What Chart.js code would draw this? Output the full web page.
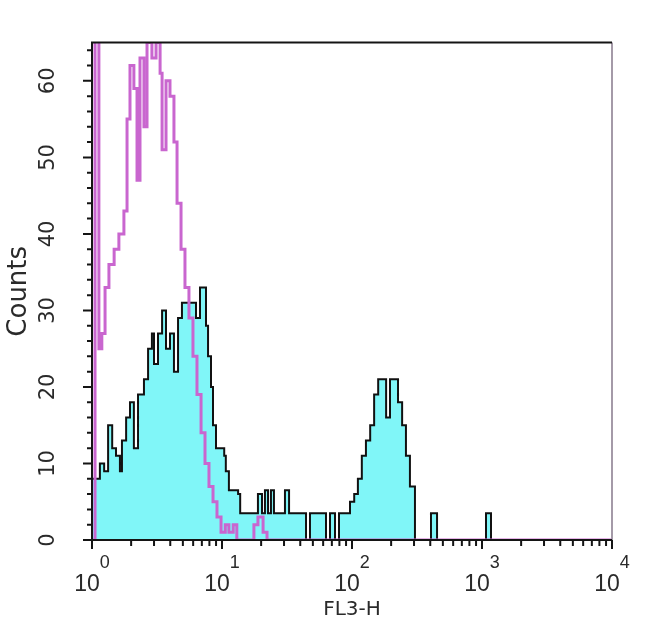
<!DOCTYPE html>
<html>
<head>
<meta charset="utf-8">
<script src="https://cdn.jsdelivr.net/npm/chart.js@4.4.1/dist/chart.umd.min.js"></script>
<style>
  html, body { margin: 0; padding: 0; background: #fff; }
  canvas { display: block; }
</style>
</head>
<body>
<canvas id="histChart" width="650" height="629"></canvas>
<script>
// Stained sample (cyan filled): FL3-H bin left edge -> counts
const stainedFL3 = [1.00, 1.15, 1.24, 1.33, 1.43, 1.53, 1.64, 1.70, 1.83, 1.96, 2.10, 2.26, 2.51, 2.70, 2.89, 3.00,
  3.22, 3.46, 3.71, 3.98, 4.27, 4.59, 4.92, 5.67, 6.31, 6.77, 7.27, 7.53, 7.81, 8.23, 8.53, 8.99, 10.4, 10.7, 11.3,
  13.3, 13.8, 18.3, 18.9, 20.3, 21.4, 22.6, 23.8, 25.1, 30.5, 32.8, 44.3, 47.5, 63.1, 67.7, 74.0, 79.4, 96.5, 104,
  111, 119, 128, 138, 148, 159, 183, 196, 226, 243, 260, 279, 305, 405, 451, 1073, 1173, 10000];
const stainedCounts = [8, 10, 9, 15, 12, 11, 9, 13, 16, 18, 12, 19, 21, 25, 27, 23,
  27, 30, 25, 27, 22, 29, 31, 31, 29, 33, 33, 28, 24, 20, 15, 12, 11, 9, 6.5,
  6, 3.5, 3.5, 6, 3.5, 6.5, 3.5, 6.5, 3.5, 6.5, 3.5, 0, 3.5, 0, 3.5, 0, 3.5, 5, 6,
  8, 11, 13, 15, 19, 21, 16, 21, 18, 15, 11, 7, 0, 3.5, 0, 3.5, 0, 0];

// Isotype control (magenta line)
const isotypeFL3 = [1.00, 1.055, 1.13, 1.19, 1.26, 1.35, 1.48, 1.61, 1.76, 1.86, 1.96, 2.10, 2.22, 2.34, 2.51, 2.65,
  2.89, 3.11, 3.34, 3.46, 3.71, 3.98, 4.27, 4.51, 4.84, 5.19, 5.57, 5.98, 6.42, 6.90, 7.40, 7.94, 8.53, 9.15, 9.83,
  10.6, 11.3, 12.2, 13.0, 17.6, 18.9, 20.7, 22.2, 10000];
const isotypeCounts = [0, 80, 25, 27, 33, 36, 38, 40, 43, 55, 62, 59, 47, 63, 54, 65,
  63, 65, 61, 51, 60, 58, 52, 44, 38, 33, 29, 24, 19, 14, 10, 7, 5, 3, 1,
  2, 1, 2, 0, 2, 3, 1, 0, 0];

const xTickValues = [1, 10, 100, 1000, 10000];
const xTickExponents = ['0', '1', '2', '3', '4'];
const yMax = 65;

const fontFamily = '"DejaVu Sans", "Liberation Sans", Arial, sans-serif';
const labelFamily = '"Liberation Sans", Arial, sans-serif';
const textColor = '#2a2a2a';

function toPoints(xs, ys) {
  return xs.map((v, i) => ({ x: v, y: ys[i] }));
}

// frame, outward tick marks and the 10^n labels
const axisDecor = {
  id: 'axisDecor',
  afterDatasetsDraw(chart) {
    const { ctx, chartArea: a, scales: { x, y } } = chart;
    ctx.save();
    ctx.lineWidth = 2;

    ctx.strokeStyle = '#a49aa8';
    ctx.beginPath();
    ctx.moveTo(a.right, a.top);
    ctx.lineTo(a.right, a.bottom);
    ctx.stroke();

    ctx.strokeStyle = '#141414';
    ctx.beginPath();
    ctx.moveTo(a.right, a.top);
    ctx.lineTo(a.left, a.top);
    ctx.lineTo(a.left, a.bottom);
    ctx.lineTo(a.right, a.bottom);
    ctx.stroke();

    // y ticks every 2 counts
    ctx.beginPath();
    for (let v = 0; v < yMax; v += 2) {
      const py = y.getPixelForValue(v);
      const len = v % 10 === 0 ? 9 : 5;
      ctx.moveTo(a.left, py);
      ctx.lineTo(a.left - len, py);
    }
    // x ticks, 1..9 per decade
    for (let d = 0; d < xTickValues.length; d++) {
      const base = xTickValues[d];
      const last = d === xTickValues.length - 1 ? 1 : 9;
      for (let m = 1; m <= last; m++) {
        const px = x.getPixelForValue(base * m);
        const len = m === 1 ? 9 : 6;
        ctx.moveTo(px, a.bottom);
        ctx.lineTo(px, a.bottom + len);
      }
    }
    ctx.stroke();

    ctx.fillStyle = textColor;
    ctx.textBaseline = 'alphabetic';
    ctx.textAlign = 'left';
    xTickValues.forEach((v, i) => {
      const px = x.getPixelForValue(v);
      ctx.font = '23px ' + labelFamily;
      const w1 = ctx.measureText('10').width;
      ctx.font = '18px ' + labelFamily;
      const w2 = ctx.measureText(xTickExponents[i]).width;
      const start = px - (w1 + w2) / 2;
      ctx.font = '23px ' + labelFamily;
      ctx.fillText('10', start, a.bottom + 51);
      ctx.font = '18px ' + labelFamily;
      ctx.fillText(xTickExponents[i], start + w1, a.bottom + 28);
    });
    ctx.restore();
  }
};

const chart = new Chart(document.getElementById('histChart'), {
  type: 'line',
  data: {
    datasets: [
      {
        label: 'Isotype',
        data: toPoints(isotypeFL3, isotypeCounts),
        stepped: true,
        borderColor: '#c966cf',
        borderWidth: 3,
        pointRadius: 0,
        fill: false,
        order: 0
      },
      {
        label: 'Stained',
        data: toPoints(stainedFL3, stainedCounts),
        stepped: true,
        borderColor: '#111',
        borderWidth: 2,
        backgroundColor: '#80f6f8',
        pointRadius: 0,
        fill: 'origin',
        order: 1
      }
    ]
  },
  options: {
    responsive: false,
    animation: false,
    devicePixelRatio: 1,
    layout: { padding: { top: 42, right: 38, left: 0, bottom: 0 } },
    plugins: {
      legend: { display: false },
      tooltip: { enabled: false }
    },
    scales: {
      x: {
        type: 'logarithmic',
        min: 1,
        max: 10000,
        grid: { display: false, drawTicks: false },
        border: { display: false },
        ticks: { display: false },
        title: {
          display: true,
          text: 'FL3-H',
          color: textColor,
          font: { family: fontFamily, size: 20 },
          padding: { top: 0, bottom: 7 }
        },
        afterFit(scale) { scale.height = 89; }
      },
      y: {
        type: 'linear',
        min: 0,
        max: yMax,
        grid: { display: false, drawTicks: false },
        border: { display: false },
        ticks: {
          stepSize: 10,
          minRotation: 90,
          maxRotation: 90,
          crossAlign: 'center',
          padding: 30,
          color: textColor,
          font: { family: fontFamily, size: 21 },
          callback: (v) => (v % 10 === 0 ? String(v) : '')
        },
        title: {
          display: true,
          text: 'Counts',
          color: textColor,
          font: { family: fontFamily, size: 26 },
          padding: { top: 4, bottom: 0 }
        },
        afterFit(scale) { scale.width = 92; }
      }
    }
  },
  plugins: [axisDecor]
});
</script>
</body>
</html>
